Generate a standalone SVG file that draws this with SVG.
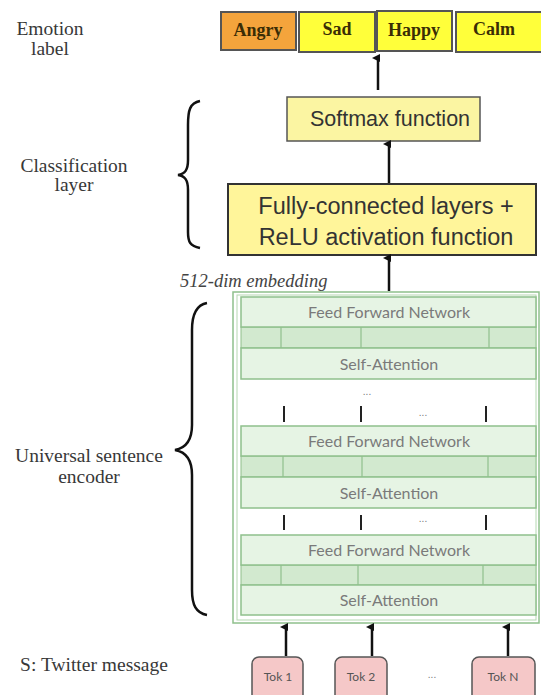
<svg xmlns="http://www.w3.org/2000/svg" width="541" height="695" viewBox="0 0 541 695">
<defs>
<marker id="ah" markerWidth="8" markerHeight="8" refX="4" refY="6" orient="auto-start-reverse" markerUnits="userSpaceOnUse" viewBox="0 0 8 8">
<path d="M0,8 L4,0 L8,8 Z" fill="#111"/>
</marker>
<style>
.lbl{font-family:"Liberation Serif","Times New Roman",serif;font-size:19.5px;fill:#383838;text-anchor:middle}
.emo{font-family:"Liberation Serif","Times New Roman",serif;font-size:18px;font-weight:bold;fill:#3a2d05;text-anchor:middle}
.ebox{stroke:#555;stroke-width:2}
.yel{fill:#ffff3a}
.cls{font-family:"Liberation Sans",Arial,sans-serif;fill:#333;text-anchor:middle}
.blk{fill:#e6f4e4;stroke:#8fc08c;stroke-width:1.5}
.band{fill:#d2e9cf;stroke:#8fc08c;stroke-width:1}
.div{stroke:#8fc08c;stroke-width:1.2}
.enc{font-family:Lato,"Liberation Sans",sans-serif;font-size:16px;fill:#7a7a7a;text-anchor:middle}
.tok{fill:#f5c8c8;stroke:#555;stroke-width:1.5}
.toktx{font-family:Lato,"Liberation Sans",sans-serif;font-size:12px;fill:#555;text-anchor:middle}
.dots{font-family:"Liberation Sans",sans-serif;font-size:10px;fill:#777;text-anchor:middle}
.arr{stroke:#111;stroke-width:2.5;fill:none;marker-end:url(#ah)}
.tick{stroke:#222;stroke-width:2}
.brace{stroke:#111;stroke-width:2.5;fill:none}
</style>
</defs>
<rect width="541" height="695" fill="#fff"/>

<g id="labels">
<text class="lbl" x="50" y="35">Emotion</text>
<text class="lbl" x="50" y="55">label</text>
<text class="lbl" x="74" y="172">Classification</text>
<text class="lbl" x="74" y="191">layer</text>
<text class="lbl" x="89" y="462">Universal sentence</text>
<text class="lbl" x="89" y="483">encoder</text>
<text class="lbl" x="94" y="671">S: Twitter message</text>
<text x="180" y="287" font-family="'Liberation Serif','Times New Roman',serif" font-style="italic" font-size="18.5" fill="#444">512-dim embedding</text>
</g>

<g id="braces">
<path class="brace" d="M200,101 C190,103 188,110 188,125 L188,160 C188,170 185,174 178,175 C185,176 188,180 188,190 L188,232 C188,242 190,246 200,248"/>
<path class="brace" d="M207,303 C196,305 192,315 192,330 L192,425 C192,440 186,448 175,450 C186,452 192,460 192,475 L192,590 C192,605 196,613 207,615"/>
</g>

<g id="emotion-angry"><rect class="ebox" x="221" y="12" width="75" height="38" fill="#f4a43c"/><text class="emo" x="258" y="36">Angry</text></g>
<g id="emotion-sad"><rect class="ebox yel" x="299" y="12" width="76" height="40"/><text class="emo" x="337" y="35">Sad</text></g>
<g id="emotion-happy"><rect class="ebox yel" x="377" y="11" width="75" height="40"/><text class="emo" x="414" y="36">Happy</text></g>
<g id="emotion-calm"><rect class="ebox yel" x="456" y="12" width="90" height="40"/><text class="emo" x="494" y="35">Calm</text></g>

<g id="softmax"><rect x="287" y="97" width="193" height="44" fill="#fbf5a2" stroke="#555" stroke-width="1.5"/><text class="cls" x="390" y="126" font-size="21.5">Softmax function</text></g>
<g id="fc"><rect x="228" y="184" width="308" height="71" fill="#fff59a" stroke="#333" stroke-width="2"/><text class="cls" x="386" y="214" font-size="23.5">Fully-connected layers +</text><text class="cls" x="386" y="245" font-size="23.5">ReLU activation function</text></g>

<g id="encoder">
<rect x="233" y="292" width="306" height="331" fill="#fff" stroke="#8fc08c" stroke-width="1.5"/>
<rect x="237" y="295" width="299" height="325" fill="none" stroke="#b5d8b2" stroke-width="1"/>
<g id="block1">
<rect class="band" x="241" y="327" width="295" height="21"/>
<line class="div" x1="281" y1="327" x2="281" y2="348"/><line class="div" x1="361" y1="327" x2="361" y2="348"/><line class="div" x1="489" y1="327" x2="489" y2="348"/>
<rect class="blk" x="241" y="297" width="295" height="30"/><text class="enc" x="389" y="318">Feed Forward Network</text>
<rect class="blk" x="241" y="348" width="295" height="31"/><text class="enc" x="389" y="370">Self-Attention</text>
</g>
<g id="block2">
<rect class="band" x="241" y="456" width="295" height="21"/>
<line class="div" x1="283" y1="456" x2="283" y2="477"/><line class="div" x1="362" y1="456" x2="362" y2="477"/><line class="div" x1="488" y1="456" x2="488" y2="477"/>
<rect class="blk" x="241" y="426" width="295" height="30"/><text class="enc" x="389" y="447">Feed Forward Network</text>
<rect class="blk" x="241" y="477" width="295" height="31"/><text class="enc" x="389" y="499">Self-Attention</text>
</g>
<g id="block3">
<rect class="band" x="241" y="565" width="295" height="20"/>
<line class="div" x1="281" y1="565" x2="281" y2="585"/><line class="div" x1="358" y1="565" x2="358" y2="585"/><line class="div" x1="483" y1="565" x2="483" y2="585"/>
<rect class="blk" x="241" y="535" width="295" height="30"/><text class="enc" x="389" y="556">Feed Forward Network</text>
<rect class="blk" x="241" y="585" width="295" height="30"/><text class="enc" x="389" y="606">Self-Attention</text>
</g>
<text class="dots" x="367" y="395">...</text>
<text class="dots" x="423" y="416">...</text>
<text class="dots" x="423" y="522">...</text>
</g>

<g id="tok1"><rect class="tok" x="252" y="657" width="51" height="45" rx="7"/><text class="toktx" x="278" y="681">Tok 1</text></g>
<g id="tok2"><rect class="tok" x="335" y="657" width="52" height="45" rx="7"/><text class="toktx" x="361" y="681">Tok 2</text></g>
<g id="tokN"><rect class="tok" x="472" y="657" width="63" height="45" rx="7"/><text class="toktx" x="503" y="681">Tok N</text></g>
<text class="dots" x="432" y="678">...</text>

<g id="connectors">
<line class="arr" x1="378" y1="90" x2="378" y2="58"/>
<line class="arr" x1="389" y1="183" x2="389" y2="144"/>
<line class="arr" x1="389" y1="291" x2="389" y2="258"/>
<line class="arr" x1="286" y1="656" x2="286" y2="627"/>
<line class="arr" x1="372" y1="656" x2="372" y2="627"/>
<line class="arr" x1="508" y1="656" x2="508" y2="627"/>
<line class="tick" x1="284" y1="406" x2="284" y2="422"/>
<line class="tick" x1="361" y1="406" x2="361" y2="422"/>
<line class="tick" x1="486" y1="406" x2="486" y2="422"/>
<line class="tick" x1="284" y1="515" x2="284" y2="530"/>
<line class="tick" x1="361" y1="515" x2="361" y2="530"/>
<line class="tick" x1="486" y1="515" x2="486" y2="530"/>
</g>
</svg>
